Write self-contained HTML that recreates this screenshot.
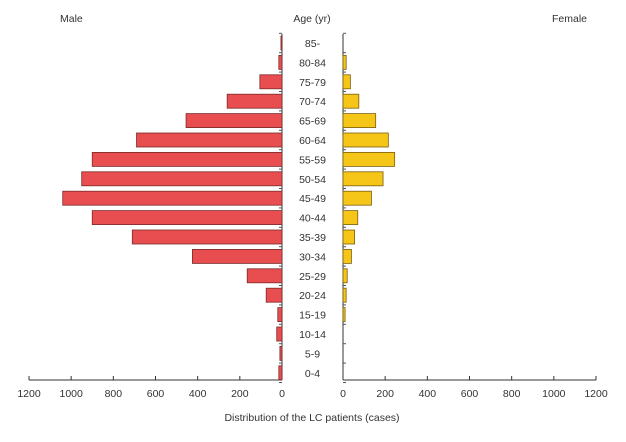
<!DOCTYPE html>
<html><head><meta charset="utf-8"><style>
body{margin:0;background:#fff;}
svg text{font-family:"Liberation Sans",sans-serif;font-size:10.5px;fill:#333;}
</style></head><body>
<svg id="chart" width="626" height="437">
<text x="60" y="22">Male</text>
<text x="312" y="22" text-anchor="middle">Age (yr)</text>
<text x="552" y="22">Female</text>
<text x="312" y="421" text-anchor="middle">Distribution of the LC patients (cases)</text>
<g id="g"></g>
</svg>
<script>
const ageGroups=["85-","80-84","75-79","70-74","65-69","60-64","55-59","50-54","45-49","40-44","35-39","30-34","25-29","20-24","15-19","10-14","5-9","0-4"];
const maleValues=[5,15,105,260,455,690,900,950,1040,900,710,425,165,75,20,25,10,15];
const femaleValues=[0,15,35,75,155,215,245,190,135,70,55,40,20,15,10,0,0,0];
const tickLabels=[0,200,400,600,800,1000,1200];
const NS="http://www.w3.org/2000/svg";
const g=document.getElementById('g');
const L0=282,R0=343,K=253/1200,TOP=34,BOT=380,step=19.4,y0=43;
const xL=v=>L0-v*K, xR=v=>R0+v*K, yC=i=>y0+i*step;
function mk(t,a){const e=document.createElementNS(NS,t);for(const k in a)e.setAttribute(k,a[k]);g.appendChild(e);return e;}
let e;
e=mk('line',{x1:L0,y1:TOP,x2:L0,y2:BOT,stroke:'#333','stroke-width':1});


e=mk('line',{x1:R0,y1:TOP,x2:R0,y2:BOT,stroke:'#333','stroke-width':1});


e=mk('line',{x1:xL(1200),y1:BOT,x2:L0,y2:BOT,stroke:'#333'});


e=mk('line',{x1:R0,y1:BOT,x2:xR(1200),y2:BOT,stroke:'#333'});


for(let i=0;i<=ageGroups.length;i++){
 const y=yC(i)-step/2;
 e=mk('line',{x1:L0-3,y1:y,x2:L0,y2:y,stroke:'#555'});
 
 
 e=mk('line',{x1:R0,y1:y,x2:R0+3,y2:y,stroke:'#555'});
 
 
}
tickLabels.forEach(t=>{
 [[xL(t),'male'],[xR(t),'female']].forEach(([x,s])=>{
  e=mk('line',{x1:x,y1:BOT-4,x2:x,y2:BOT,stroke:'#333'});
  
  
  e=mk('text',{x:x,y:BOT+17,'text-anchor':'middle'});e.textContent=t;
  
  
 });
});
ageGroups.forEach((a,i)=>{
 const y=yC(i);
 e=mk('text',{x:312.5,y:y+4,'text-anchor':'middle'});e.textContent=a;
 
 
 if(maleValues[i]>0){
  e=mk('rect',{x:xL(maleValues[i]),y:y-7,width:maleValues[i]*K,height:14,fill:'#e84e4f',stroke:'#7a2a2a','stroke-width':0.8});
  
  
 }
 if(femaleValues[i]>0){
  e=mk('rect',{x:R0,y:y-7,width:femaleValues[i]*K,height:14,fill:'#f5c518',stroke:'#7a6010','stroke-width':0.8});
  
  
 }
});
</script>
</body></html>
